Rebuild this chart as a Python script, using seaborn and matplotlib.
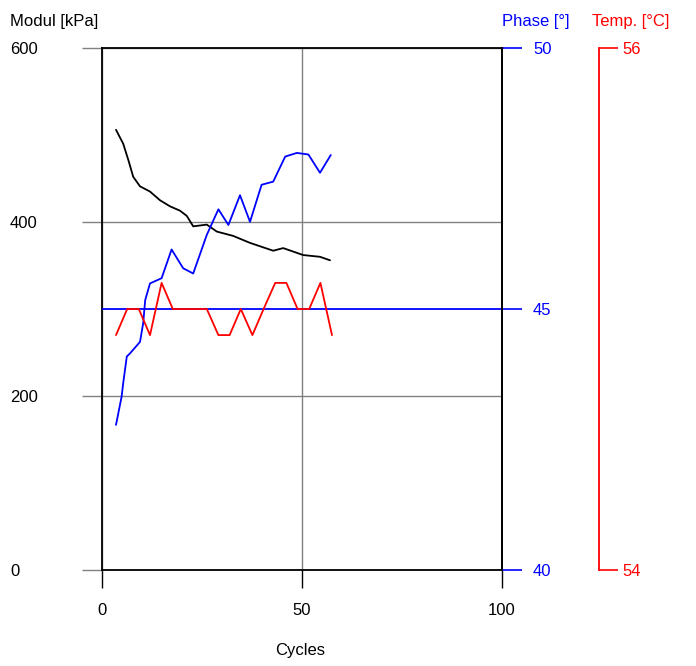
import numpy as np
import pandas as pd
import seaborn as sns
from matplotlib import pyplot as plt

# values
cyc_mod = [3.5, 5.3, 6.6, 7.8, 9.5, 12.0, 14.5, 17.0, 19.5, 21.2, 22.8, 26.2, 28.7, 32.8, 37.0, 42.8, 45.3, 50.3, 54.5, 57.0]
modul = [506, 490, 471, 452, 441, 435, 425, 418, 413, 407, 395, 397, 389, 384, 376, 367, 370, 362, 360, 356]

cyc_phase = [3.5, 4.9, 5.3, 6.2, 7.0, 9.5, 10.3, 10.8, 12.0, 14.9, 17.4, 20.3, 22.8, 26.2, 29.1, 31.6,
             34.5, 37.0, 39.9, 42.8, 45.8, 48.7, 51.6, 54.5, 57.2]
phase = [42.78, 43.32, 43.58, 44.09, 44.15, 44.37, 44.73, 45.17, 45.49, 45.59, 46.14, 45.78, 45.68, 46.42,
         46.91, 46.61, 47.18, 46.67, 47.38, 47.44, 47.92, 47.99, 47.96, 47.61, 47.95]

cyc_temp = [3.5, 6.3, 9.2, 12.0, 14.9, 17.7, 26.2, 29.1, 31.9, 34.7, 37.6, 40.4, 43.3, 46.1, 48.9, 51.8, 54.6, 57.5]
temp = [54.9, 55.0, 55.0, 54.9, 55.1, 55.0, 55.0, 54.9, 54.9, 55.0, 54.9, 55.0, 55.1, 55.1, 55.0, 55.0, 55.1, 54.9]

x_ticks = [0, 50, 100]
mod_ticks = [0, 200, 400, 600]
phase_ticks = [40, 45, 50]
temp_ticks = [54, 56]

BLUE = '#0000ff'
RED = '#ff0000'
GRID = '#808080'

sns.set_style('white')
plt.rcParams['font.family'] = ['Liberation Sans', 'DejaVu Sans']
plt.rcParams['font.size'] = 12
plt.rcParams['text.color'] = 'black'
plt.rcParams['axes.labelcolor'] = 'black'
plt.rcParams['xtick.color'] = 'black'
plt.rcParams['ytick.color'] = 'black'

fig = plt.figure(figsize=(6.96, 6.66), dpi=100)
ax = fig.add_axes([102 / 696, 96 / 666, 400 / 696, 522 / 666])

df_mod = pd.DataFrame({'Cycles': cyc_mod, 'Modul': modul})
sns.lineplot(data=df_mod, x='Cycles', y='Modul', ax=ax, color='black', lw=1.3, estimator=None)
ax.set_xlim(0, 100)
ax.set_ylim(0, 600)
ax.set_xticks(x_ticks)
ax.set_yticks(mod_ticks)
ax.grid(True, color=GRID, lw=1.0)
for s in ax.spines.values():
    s.set_color('black')
    s.set_linewidth(1.3)
ax.tick_params(axis='x', direction='out', length=13, width=1.0, pad=11, color='black',
               labelcolor='black', bottom=True)
ax.tick_params(axis='y', direction='out', length=14.4, width=1.0, pad=51.8, color=GRID,
               labelcolor='black', left=True)
for t in ax.get_yticklabels():
    t.set_horizontalalignment('left')
yt = ax.yaxis.get_major_ticks()
yt[0].tick1line.set_color('black')
yt[-1].tick1line.set_color('black')
ax.set_xlabel('Cycles', color='black', va='top')
ax.xaxis.set_label_coords(0.495, -0.14)
ax.set_ylabel('Modul [kPa]', color='black', rotation=0, ha='left', va='center')
ax.yaxis.set_label_coords(-0.23, 1.05)

# phase axis
ax2 = ax.twinx()
df_phase = pd.DataFrame({'Cycles': cyc_phase, 'Phase': phase})
sns.lineplot(data=df_phase, x='Cycles', y='Phase', ax=ax2, color=BLUE, lw=1.3, estimator=None)
ax2.set_ylim(40, 50)
ax2.set_yticks(phase_ticks)
ax2.grid(False)
ax2.axhline(45, color=BLUE, lw=1.3, zorder=0)
for k, s in ax2.spines.items():
    s.set_visible(k == 'right')
ax2.spines['right'].set_color('black')
ax2.spines['right'].set_linewidth(1.3)
ax2.tick_params(axis='y', direction='out', length=14.4, width=1.2, pad=8, color=BLUE, labelcolor=BLUE, right=True)
ax2.set_ylabel('Phase [°]', color=BLUE, rotation=0, ha='left', va='center')
ax2.yaxis.set_label_coords(1.0, 1.05)

# temperature axis
ax3 = ax.twinx()
df_temp = pd.DataFrame({'Cycles': cyc_temp, 'Temp': temp})
sns.lineplot(data=df_temp, x='Cycles', y='Temp', ax=ax3, color=RED, lw=1.3, estimator=None)
ax3.set_ylim(54, 56)
ax3.set_yticks(temp_ticks)
ax3.grid(False)
for k, s in ax3.spines.items():
    s.set_visible(k == 'right')
ax3.spines['right'].set_position(('axes', (599 - 102) / 400))
ax3.spines['right'].set_color(RED)
ax3.spines['right'].set_linewidth(1.3)
ax3.tick_params(axis='y', direction='out', length=13.5, width=1.2, pad=3.5, color=RED, labelcolor=RED, right=True)
ax3.set_ylabel('Temp. [°C]', color=RED, rotation=0, ha='left', va='center')
ax3.yaxis.set_label_coords((592 - 102) / 400, 1.05)

fig.savefig('out.png', dpi=100)
